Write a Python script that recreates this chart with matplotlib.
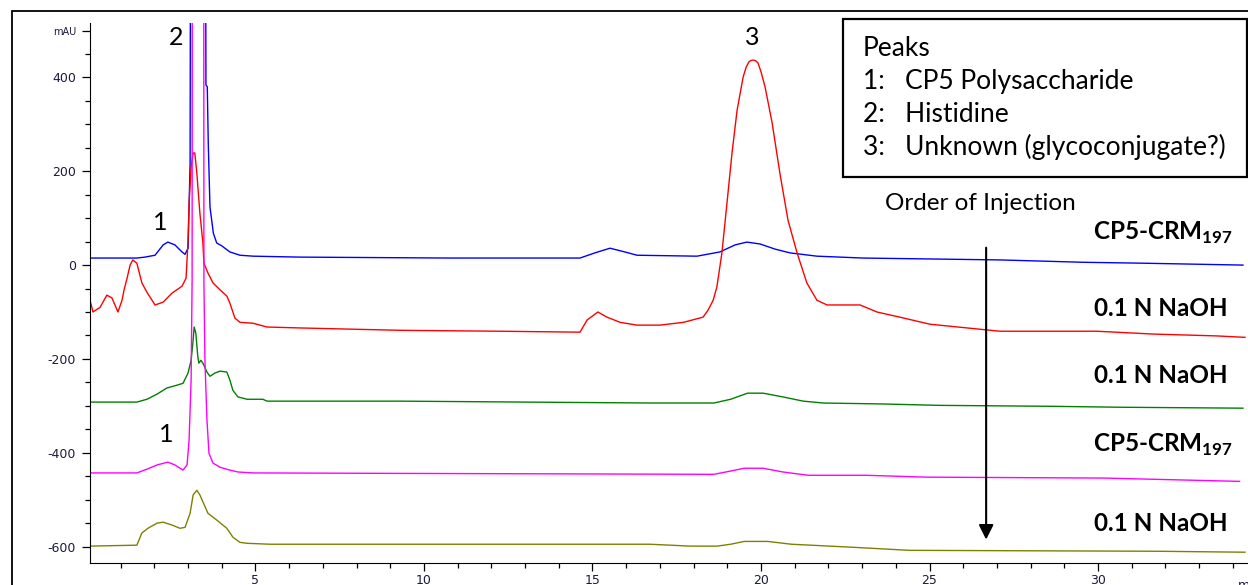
import matplotlib.pyplot as plt
from matplotlib.patches import Rectangle
from matplotlib.ticker import MultipleLocator

plt.rcParams['font.family'] = ['Lato', 'DejaVu Sans']
plt.rcParams['mathtext.fontset'] = 'custom'
plt.rcParams['mathtext.rm'] = 'Lato'
plt.rcParams['mathtext.bf'] = 'Lato:bold'

# chromatogram traces, time (min) and absorbance (mAU)
blue_t = [0.09, 1.48, 1.72, 2.02, 2.26, 2.4, 2.61, 2.82, 2.91, 3.0, 3.06, 3.09, 3.5, 3.53, 3.57, 3.6,
          3.65, 3.75, 3.85, 4.0, 4.24, 4.54, 4.93, 6.32, 10.77, 14.63, 15.07, 15.52, 15.96, 16.32,
          18.1, 18.78, 19.23, 19.58, 19.97, 20.42, 20.86, 21.66, 23.03, 27.09, 29.55, 31.34, 34.3]
blue_v = [15, 15, 17, 21, 43, 49, 43, 28, 23, 36, 217, 1500, 1500, 384, 380, 256,
          124, 68, 47, 41, 28, 21, 19, 17, 15, 15, 26, 36, 28, 21,
          19, 28, 43, 49, 45, 34, 26, 19, 15, 11, 6, 4, 0]

red_t = [0.09, 0.18, 0.39, 0.59, 0.74, 0.92, 1.04, 1.1, 1.19, 1.28, 1.36, 1.48, 1.63, 1.78, 2.02,
         2.26, 2.52, 2.82, 2.94, 3.0, 3.03, 3.09, 3.15, 3.2, 3.26, 3.35, 3.44, 3.47, 3.59, 3.74,
         3.95, 4.15, 4.24, 4.39, 4.54, 4.93, 5.34, 6.32, 9.29, 12.26, 14.63, 14.84, 15.16, 15.43,
         15.82, 16.32, 17.0, 17.7, 18.28, 18.43, 18.58, 18.69, 18.84, 18.99, 19.14, 19.29, 19.47,
         19.56, 19.64, 19.7, 19.76, 19.83, 19.91, 20.0, 20.12, 20.33, 20.56, 20.8, 21.07, 21.36,
         21.66, 21.96, 22.94, 23.44, 24.12, 25.01, 27.09, 29.97, 31.63, 33.53, 34.36]
red_v = [-75, -100, -90, -64, -70, -100, -75, -53, -28, 0, 11, 4, -38, -58, -85,
         -79, -60, -45, -28, 53, 132, 209, 239, 239, 196, 111, 47, 4, -17, -38,
         -53, -66, -81, -113, -122, -124, -132, -134, -139, -141, -143, -117, -100, -111,
         -122, -128, -128, -122, -111, -96, -75, -47, 26, 132, 239, 330, 401,
         422, 433, 436, 437, 436, 431, 412, 380, 303, 196, 96, 26, -38,
         -75, -85, -85, -100, -111, -126, -141, -141, -147, -151, -154]

green_t = [0.09, 1.48, 1.78, 2.08, 2.37, 2.67, 2.85, 3.0, 3.09, 3.15, 3.18, 3.23, 3.29, 3.32, 3.38,
           3.44, 3.56, 3.65, 3.8, 3.95, 4.15, 4.24, 4.33, 4.48, 4.75, 5.22, 5.34, 6.32, 9.29,
           16.7, 18.6, 19.1, 19.6, 20.06, 20.65, 21.25, 21.85, 23.6, 25.3, 28.6, 30.65, 34.3]
green_v = [-292, -292, -286, -275, -262, -256, -252, -230, -203, -160, -132, -145, -196, -209, -203,
           -209, -228, -237, -230, -226, -228, -245, -267, -281, -286, -286, -290, -290, -290,
           -294, -294, -286, -273, -273, -281, -290, -294, -296, -299, -301, -303, -305]

magenta_t = [0.09, 1.48, 1.78, 2.08, 2.4, 2.61, 2.85, 2.97, 3.03, 3.09, 3.12, 3.13, 3.46, 3.47, 3.5,
             3.56, 3.62, 3.74, 3.95, 4.24, 4.48, 4.93, 9.29, 18.6, 19.1, 19.5, 20.06, 20.65, 21.4,
             23.1, 24.9, 30.2, 34.2]
magenta_v = [-443, -443, -435, -426, -420, -426, -437, -426, -373, -245, -32, 1500, 1500, -32, -203,
             -330, -401, -422, -431, -437, -441, -443, -444, -446, -439, -433, -433, -441, -448,
             -448, -452, -454, -461]

olive_t = [0.09, 1.48, 1.63, 1.81, 2.08, 2.26, 2.52, 2.76, 2.91, 3.06, 3.15, 3.26, 3.35, 3.59, 3.86,
           4.15, 4.33, 4.54, 4.75, 5.43, 6.32, 9.29, 16.7, 17.9, 18.7, 19.1, 19.5, 20.2, 20.9,
           22.6, 24.4, 31.8, 34.36]
olive_v = [-599, -597, -571, -561, -550, -548, -554, -561, -559, -529, -490, -480, -490, -529, -544,
           -561, -580, -591, -593, -595, -595, -595, -595, -599, -599, -595, -589, -589, -595,
           -601, -608, -610, -612]

traces = [
    (blue_t, blue_v, '#0000ff'),
    (red_t, red_v, '#ff0000'),
    (green_t, green_v, '#008000'),
    (magenta_t, magenta_v, '#ff00ff'),
    (olive_t, olive_v, '#808000'),
]

sample_labels = ['CP5-CRM$_{\\mathbf{197}}$', '0.1 N NaOH', '0.1 N NaOH',
                 'CP5-CRM$_{\\mathbf{197}}$', '0.1 N NaOH']
sample_label_y = [68, -92, -235, -384, -550]

peak_names = ['Peaks', '1:   CP5 Polysaccharide', '2:   Histidine', '3:   Unknown (glycoconjugate?)']

fig = plt.figure(figsize=(12.48, 5.85), dpi=100)
ax = fig.add_axes([90 / 1248, 1 - 563 / 585, 1158 / 1248, 540 / 585])

for t, v, c in traces:
    ax.plot(t, v, color=c, lw=1.0)

ax.set_xlim(0.09, 34.45)
ax.set_ylim(-635, 516)

ax.spines['top'].set_visible(False)
ax.spines['right'].set_visible(False)
ax.xaxis.set_major_locator(MultipleLocator(5))
ax.xaxis.set_minor_locator(MultipleLocator(1))
ax.set_yticks([-600, -400, -200, 0, 200, 400, 500])
ax.set_yticklabels(['-600', '-400', '-200', '0', '200', '400', 'mAU'])
ax.yaxis.set_minor_locator(MultipleLocator(50))
ax.tick_params(which='major', length=6, width=0.9, labelsize=9, colors='black', labelcolor='#1a1a40')
ax.tick_params(which='minor', length=3.5, width=0.9)
ax.tick_params(axis='x', pad=2)
ax.tick_params(axis='y', pad=4)
for lab in ax.get_yticklabels():
    lab.set_fontfamily('DejaVu Sans')
    if lab.get_text() == 'mAU':
        lab.set_fontsize(7)
for lab in ax.get_xticklabels():
    lab.set_fontfamily('DejaVu Sans')
ax.text(34.15, -0.03, 'min', transform=ax.get_xaxis_transform(), fontsize=9,
        family='DejaVu Sans', color='#1a1a40', va='top', clip_on=False)

# peak numbers
ax.text(2.17, 90, '1', fontsize=18, ha='center', va='center')
ax.text(2.64, 486, '2', fontsize=18, ha='center', va='center')
ax.text(19.73, 486, '3', fontsize=18, ha='center', va='center')
ax.text(2.34, -362, '1', fontsize=18, ha='center', va='center')

# sample names on the right
for lab, y in zip(sample_labels, sample_label_y):
    xr = 34.0 if 'CP5' in lab else 33.86
    ax.text(xr, y, lab, fontsize=17.5, fontweight='bold', ha='right', va='center')

# order of injection arrow
ax.text(26.5, 132, 'Order of Injection', fontsize=17.5, ha='center', va='center')
ax.annotate('', xy=(26.68, -591), xytext=(26.68, 43),
            arrowprops=dict(arrowstyle='-|>', lw=1.5, color='black', mutation_scale=22))

# peak legend box
fig.patches.append(Rectangle((843 / 1248, 1 - 177 / 585), 404 / 1248, 158 / 585,
                             transform=fig.transFigure, fill=False, lw=1.6, ec='black'))
for name, yp in zip(peak_names, [48, 82, 115, 147]):
    fig.text(863 / 1248, 1 - yp / 585, name, fontsize=19, ha='left', va='center')

# outer frame
fig.patches.append(Rectangle((12 / 1248, -0.05), 1.2, 1 - 11 / 585 + 0.05,
                             transform=fig.transFigure, fill=False, lw=1.3, ec='black'))

fig.savefig('out.png', dpi=100)
